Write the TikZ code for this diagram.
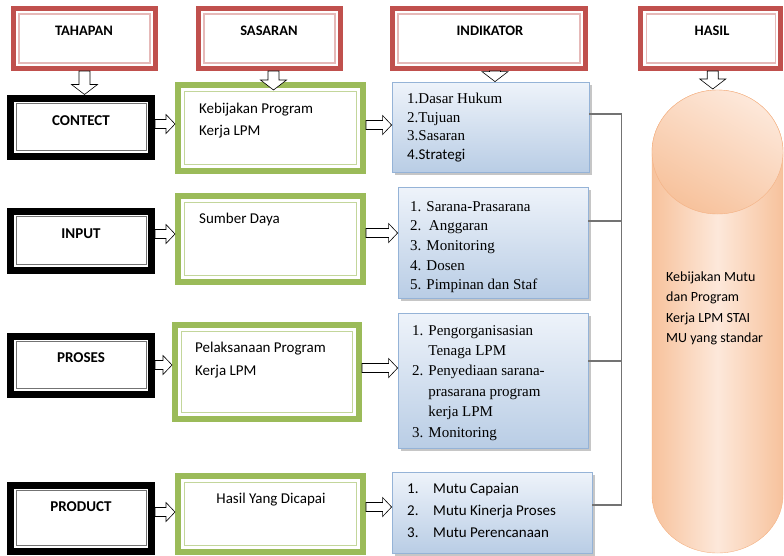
\documentclass[tikz,border=0pt]{standalone}
\usepackage{fontspec}
\setmainfont{Carlito}
\newfontfamily\timesfont{Liberation Serif}
\usepackage{tikz}
\usetikzlibrary{positioning,calc,shadows}
\definecolor{hdrred}{HTML}{C0504D}
\definecolor{hdrpink}{HTML}{E6B9B8}
\definecolor{grn}{HTML}{9BBB59}
\definecolor{grnlight}{HTML}{C3D69B}
\definecolor{indtop}{HTML}{EEF3FA}
\definecolor{indbot}{HTML}{B9CDE5}
\definecolor{indline}{HTML}{95B3D7}
\definecolor{cylorange}{HTML}{F7C29C}
\definecolor{cylpale}{HTML}{FDE8DA}
\definecolor{cylline}{HTML}{F4B183}

\begin{document}
\begin{tikzpicture}[x=1pt,y=-1pt,
  hdrbox/.style={draw=hdrred,line width=5pt,fill=white,minimum height=60pt,
    path picture={\draw[hdrpink,line width=1.5pt]
      ([shift={(5.5pt,-5.5pt)}]path picture bounding box.north west) rectangle
      ([shift={(-5.5pt,5.5pt)}]path picture bounding box.south east);}},
  stagebox/.style={draw=black,line width=7pt,fill=white,minimum width=141pt,
    path picture={\draw[black!55,line width=1pt]
      ([shift={(5.5pt,-5.5pt)}]path picture bounding box.north west) rectangle
      ([shift={(-5.5pt,5.5pt)}]path picture bounding box.south east);}},
  goalbox/.style={draw=grn,line width=6pt,fill=white,minimum width=185pt,
    path picture={\draw[grnlight,line width=1.5pt]
      ([shift={(6.5pt,-6.5pt)}]path picture bounding box.north west) rectangle
      ([shift={(-6.5pt,6.5pt)}]path picture bounding box.south east);}},
  indbox/.style={draw=indline,line width=.8pt,top color=indtop,bottom color=indbot,
    drop shadow={shadow xshift=2.5pt,shadow yshift=-2.5pt,opacity=.45,fill=gray}},
  hdrtext/.style={font=\fontsize{14.5}{17}\selectfont\bfseries,inner sep=0pt},
  stagetext/.style={font=\fontsize{15}{17}\selectfont\bfseries,inner sep=0pt},
  goaltext/.style={font=\fontsize{15}{22}\selectfont,align=left,anchor=north west,inner sep=0pt},
  indtext/.style={align=left,anchor=north west,inner sep=0pt},
  busline/.style={draw=black!55,line width=1.2pt},
  harrow/.style={draw=black,fill=white,line width=.6pt,to path={
    let \p1=(\tikztostart), \p2=(\tikztotarget) in
    (\x1,\y1+4.5pt) -- (\x2-9pt,\y1+4.5pt) -- (\x2-9pt,\y1+9.5pt) -- (\x2,\y1)
    -- (\x2-9pt,\y1-9.5pt) -- (\x2-9pt,\y1-4.5pt) -- (\x1,\y1-4.5pt) -- cycle}},
  varrow/.style={draw=black,fill=white,line width=.6pt,to path={
    let \p1=(\tikztostart), \p2=(\tikztotarget) in
    (\x1-5.5pt,\y1) -- (\x1-5.5pt,\y2+10pt) -- (\x1-13pt,\y2+10pt) -- (\x1,\y2)
    -- (\x1+13pt,\y2+10pt) -- (\x1+5.5pt,\y2+10pt) -- (\x1+5.5pt,\y1) -- cycle}}]
  \useasboundingbox (0,0) rectangle (784,555);

  % column headers
  \node[hdrbox,minimum width=142pt] (tahapan) at (84.5,38.5) {};
  \node[hdrbox,minimum width=142pt] (sasaran) at (269.5,38.5) {};
  \node[hdrbox,minimum width=193pt] (indikator) at (489,38.5) {};
  \node[hdrbox,minimum width=140pt] (hasil) at (710.75,38.5) {};
  \node[hdrtext] (tahapan-t) at (84,31) {TAHAPAN};
  \node[hdrtext] (sasaran-t) at (269,31) {SASARAN};
  \node[hdrtext] (indikator-t) at (490,31) {INDIKATOR};
  \node[hdrtext] (hasil-t) at (712,31) {HASIL};

  % tahapan
  \node[stagebox,minimum height=58pt] (contect) at (81,127) {};
  \node[stagebox,minimum height=59pt] (input) at (81,240.5) {};
  \node[stagebox,minimum height=58pt] (proses) at (81,365) {};
  \node[stagebox,minimum height=66pt] (product) at (81,518) {};
  \node[stagetext] (contect-t) at (81,121) {CONTECT};
  \node[stagetext] (input-t) at (81,234) {INPUT};
  \node[stagetext] (proses-t) at (81,358) {PROSES};
  \node[stagetext] (product-t) at (81,507) {PRODUCT};

  % sasaran
  \node[goalbox,minimum height=86pt] (kebijakan) at (270.5,128) {};
  \node[goalbox,minimum height=86pt] (sumber) at (270.5,239) {};
  \node[goalbox,minimum width=184pt,minimum height=94pt] (pelaksanaan) at (267,372) {};
  \node[goalbox,minimum height=76pt] (capaian) at (270.5,514) {};
  \node[goaltext] (kebijakan-t) at (199,102.5) {Kebijakan Program\\Kerja LPM};
  \node[goaltext] (sumber-t) at (199,212.5) {Sumber Daya};
  \node[goaltext,font=\fontsize{15}{23}\selectfont] (pelaksanaan-t) at (195,341.5) {Pelaksanaan Program\\Kerja LPM};
  \node[goaltext,anchor=north] (capaian-t) at (271,492.5) {Hasil Yang Dicapai};

  % indikator
  \node[indbox,minimum width=197pt,minimum height=90pt] (ind1) at (490.5,127) {};
  \node[indbox,minimum width=190pt,minimum height=111pt] (ind2) at (493,242.5) {};
  \node[indbox,minimum width=190pt,minimum height=135pt] (ind3) at (493,380.5) {};
  \node[indbox,minimum width=200pt,minimum height=81pt] (ind4) at (492,512.5) {};
  \node[indtext,font=\timesfont\fontsize{15}{18.5}\selectfont] (ind1-t) at (407,93)
    {1.Dasar Hukum\\2.Tujuan\\3.Sasaran\\\rmfamily 4.Strategi};
  \node[indtext,font=\timesfont\fontsize{15}{19.7}\selectfont] (ind2-t) at (410,201)
    {1. Sarana-Prasarana\\2.\ \ Anggaran\\3. Monitoring\\4. Dosen\\5. Pimpinan dan Staf};
  \node[indtext,font=\timesfont\fontsize{15}{20.4}\selectfont] (ind3-t) at (412,325)
    {1. Pengorganisasian\\\phantom{1. }Tenaga LPM\\2. Penyediaan sarana-\\\phantom{2. }prasarana program\\\phantom{2. }kerja LPM\\3. Monitoring};
  \node[indtext,font=\fontsize{15}{22}\selectfont] (ind4-t) at (407,482.5)
    {\makebox[26pt][l]{1.}Mutu Capaian\\\makebox[26pt][l]{2.}Mutu Kinerja Proses\\\makebox[26pt][l]{3.}Mutu Perencanaan};

  % hasil cylinder
  \draw[cylline,left color=cylorange,right color=cylorange,middle color=cylpale]
    (652,152) -- (652,495) arc[start angle=180,end angle=360,x radius=65.5pt,y radius=58pt]
    -- (783,152) arc[start angle=0,end angle=180,x radius=65.5pt,y radius=62pt] -- cycle;
  \draw[cylline,top color=cylpale,bottom color=cylorange,shading angle=-30]
    (717.5,152) ellipse[x radius=65.5pt,y radius=62pt];
  \coordinate (cyltop) at (715,89);
  \node[indtext,font=\fontsize{14}{20.3}\selectfont] (cyl-t) at (666,271.5)
    {Kebijakan Mutu\\dan Program\\Kerja LPM STAI\\MU yang standar};

  % bus from indikator
  \draw[busline] ([yshift=13pt]ind1.east) -- ++(32,0) |- ([yshift=7.5pt]ind4.east);
  \draw[busline] ([yshift=21.5pt]ind2.east) -- ++(33,0);
  \draw[busline] ([yshift=19.5pt]ind3.east) -- ++(33,0);

  % block arrows
  \draw[varrow] (tahapan.south) to (tahapan.south |- contect.north);
  \draw[varrow] ([xshift=4pt]sasaran.south) to ([yshift=-8pt,xshift=4pt]sasaran.south |- kebijakan.north);
  \draw[varrow] ([xshift=6pt]indikator.south) to ([xshift=6pt]indikator.south |- ind1.north);
  \draw[varrow] ([xshift=2pt]hasil.south) to (cyltop);
  \draw[harrow] ([yshift=3pt]contect.east) to (kebijakan.west);
  \draw[harrow] ([yshift=6.5pt]input.east) to (sumber.west);
  \draw[harrow] (proses.east) to (pelaksanaan.west);
  \draw[harrow] ([yshift=6pt]product.east) to (capaian.west);
  \draw[harrow] ([yshift=3pt]kebijakan.east) to (ind1.west);
  \draw[harrow] ([yshift=6pt]sumber.east) to (ind2.west);
  \draw[harrow] ([yshift=4pt]pelaksanaan.east) to (ind3.west);
  \draw[harrow] ([yshift=7pt]capaian.east) to (ind4.west);
\end{tikzpicture}
\end{document}
